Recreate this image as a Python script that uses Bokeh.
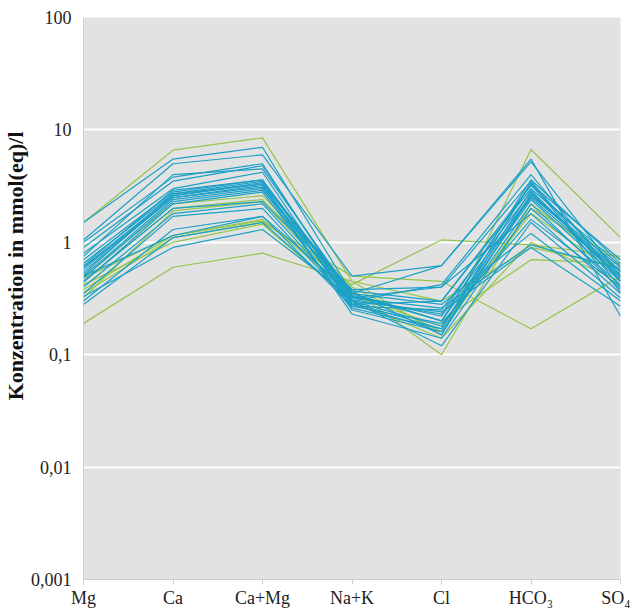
from bokeh.plotting import figure
from bokeh.models import Range1d, FixedTicker, CustomJSTickFormatter, Title
from bokeh.embed import file_html
from bokeh.resources import INLINE

categories = ["Mg", "Ca", "Ca+Mg", "Na+K", "Cl", "HCO₃", "SO₄"]
y_ticks = [0.001, 0.01, 0.1, 1, 10, 100]
y_title = "Konzentration in mmol(eq)/l"

# each row: Mg, Ca, Ca+Mg, Na+K, Cl, HCO3, SO4 (mmol(eq)/l)
green_lines = [
    [1.5, 6.6, 8.5, 0.45, 0.15, 6.7, 1.1],
    [0.19, 0.6, 0.8, 0.45, 0.3, 0.9, 0.6],
    [0.5, 2.2, 2.6, 0.4, 0.16, 2.0, 0.7],
    [0.45, 2.0, 2.4, 0.38, 0.1, 2.2, 0.55],
    [0.38, 1.15, 1.55, 0.42, 1.05, 0.95, 0.75],
    [0.35, 1.1, 1.5, 0.5, 0.45, 0.17, 0.5],
    [0.48, 1.15, 1.6, 0.35, 0.2, 0.7, 0.65],
    [0.42, 1.0, 1.45, 0.3, 0.14, 1.0, 0.45],
    [0.32, 1.9, 2.3, 0.33, 0.18, 1.8, 0.5],
]
blue_lines = [
    [1.5, 5.5, 7.0, 0.35, 0.62, 5.5, 0.22],
    [1.05, 5.0, 6.0, 0.5, 0.62, 5.2, 0.5],
    [1.0, 3.8, 5.0, 0.3, 0.42, 4.0, 0.45],
    [0.9, 3.5, 4.8, 0.32, 0.4, 3.5, 0.4],
    [0.8, 3.0, 4.2, 0.28, 0.3, 3.2, 0.55],
    [0.7, 2.8, 3.6, 0.27, 0.25, 2.8, 0.48],
    [0.65, 2.7, 3.5, 0.33, 0.22, 2.6, 0.6],
    [0.6, 2.6, 3.3, 0.35, 0.2, 2.5, 0.5],
    [0.55, 2.5, 3.2, 0.3, 0.18, 2.4, 0.45],
    [0.5, 2.4, 3.0, 0.25, 0.16, 2.2, 0.38],
    [0.6, 2.6, 3.4, 0.36, 0.15, 2.7, 0.52],
    [0.52, 2.7, 3.3, 0.23, 0.14, 2.0, 0.42],
    [0.48, 2.3, 2.9, 0.37, 0.3, 3.0, 0.62],
    [0.45, 2.0, 2.3, 0.38, 0.4, 1.8, 0.35],
    [0.4, 1.8, 2.2, 0.3, 0.12, 1.5, 0.32],
    [0.35, 1.7, 2.0, 0.28, 0.16, 2.6, 0.55],
    [0.3, 1.3, 1.7, 0.35, 0.28, 1.2, 0.3],
    [0.28, 1.1, 1.5, 0.3, 0.24, 0.9, 0.27],
    [0.33, 0.9, 1.3, 0.32, 0.26, 0.95, 0.58],
    [0.75, 4.0, 4.5, 0.34, 0.2, 3.6, 0.65],
    [0.62, 2.9, 3.6, 0.31, 0.23, 3.3, 0.7],
    [0.58, 2.5, 3.1, 0.29, 0.17, 2.9, 0.46],
    [0.5, 1.15, 1.7, 0.27, 0.19, 1.6, 0.4],
    [0.44, 2.2, 2.8, 0.26, 0.17, 3.4, 0.36],
]

GREEN = "#95c54a"
BLUE = "#1ba0c8"
FONT = "Liberation Serif"

xs_idx = list(range(len(categories)))

p = figure(width=630, height=610, y_axis_type="log",
           x_range=Range1d(0, len(categories) - 1),
           y_range=Range1d(y_ticks[0], y_ticks[-1]),
           output_backend="svg", toolbar_location=None,
           min_border_left=79, min_border_right=10,
           min_border_top=17, min_border_bottom=30)

p.background_fill_color = "#e2e2e2"
p.border_fill_color = "white"
p.outline_line_color = None

for row in green_lines:
    p.line(xs_idx, row, line_color=GREEN, line_width=1.2)
for row in blue_lines:
    p.line(xs_idx, row, line_color=BLUE, line_width=1.2)

p.xgrid.grid_line_color = None
p.ygrid.grid_line_color = "white"
p.ygrid.grid_line_width = 2
p.ygrid.ticker = FixedTicker(ticks=y_ticks)

xa = p.xaxis[0]
xa.ticker = FixedTicker(ticks=xs_idx)
xa.major_label_overrides = {i: c for i, c in zip(xs_idx, categories)}
xa.major_label_text_font = FONT
xa.major_label_text_font_size = "18px"
xa.major_label_text_color = "#222222"
xa.axis_line_color = "#cfcfcf"
xa.major_tick_line_color = "#cfcfcf"
xa.major_tick_out = 5
xa.major_tick_in = 0
xa.minor_tick_line_color = None
xa.major_label_standoff = 3

ya = p.yaxis[0]
ya.ticker = FixedTicker(ticks=y_ticks)
ya.formatter = CustomJSTickFormatter(code="""
const e = Math.round(Math.log10(tick));
if (e >= 0) return String(Math.round(Math.pow(10, e)));
return '0,' + '0'.repeat(-e - 1) + '1';
""")
ya.major_label_text_font = FONT
ya.major_label_text_font_size = "18px"
ya.major_label_text_color = "#222222"
ya.axis_line_color = "#cfcfcf"
ya.major_tick_line_color = None
ya.minor_tick_line_color = None
ya.major_label_standoff = 6

title = Title(text=y_title, align="right", offset=114, standoff=0,
              text_font=FONT, text_font_style="bold",
              text_font_size="22px", text_color="#111111")
p.add_layout(title, "left")

open("out.html", "w").write(file_html(p, INLINE))
